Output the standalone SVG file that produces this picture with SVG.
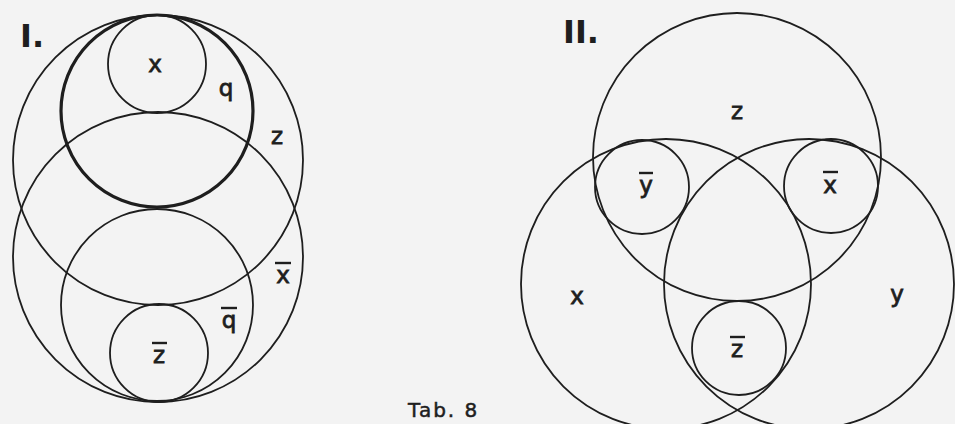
<svg xmlns="http://www.w3.org/2000/svg" width="955" height="424" viewBox="0 0 955 424">
  <style>
    .c { fill: none; stroke: #1e1e1e; stroke-width: 1.8; }
    .thick { stroke-width: 3.2; }
    .lbl { font-family: "DejaVu Sans", "Liberation Sans", sans-serif; font-size: 23px; fill: #1e1e1e; stroke: #1e1e1e; stroke-width: 0.8; text-anchor: middle; }
    .num { font-family: "DejaVu Sans", "Liberation Sans", sans-serif; font-size: 32px; font-weight: bold; fill: #1e1e1e; }
    .cap { font-family: "DejaVu Sans", "Liberation Sans", sans-serif; font-size: 20px; fill: #1e1e1e; stroke: #1e1e1e; stroke-width: 0.5; letter-spacing: 2px; }
    .bar { stroke: #1e1e1e; stroke-width: 2.4; }
  </style>
  <rect width="955" height="424" fill="#f3f3f3"/>

  <g id="figure-I">
    <text class="num" x="20" y="47">I.</text>
    <g id="I-z"><circle class="c" cx="158" cy="160" r="145"/><text class="lbl" x="277" y="144">z</text></g>
    <g id="I-xbar"><circle class="c" cx="158" cy="257" r="145"/><text class="lbl" x="283" y="283">x</text><line class="bar" x1="275" y1="263" x2="291" y2="263"/></g>
    <g id="I-q"><circle class="c thick" cx="157" cy="111" r="96"/><text class="lbl" x="226" y="96">q</text></g>
    <g id="I-qbar"><circle class="c" cx="157" cy="305" r="96"/><text class="lbl" x="229" y="328">q</text><line class="bar" x1="221" y1="308" x2="237" y2="308"/></g>
    <g id="I-x"><circle class="c" cx="157" cy="64" r="49"/><text class="lbl" x="155" y="72">x</text></g>
    <g id="I-zbar"><circle class="c" cx="159" cy="353" r="49"/><text class="lbl" x="159" y="363">z</text><line class="bar" x1="152" y1="343" x2="167" y2="343"/></g>
  </g>

  <g id="figure-II">
    <text class="num" x="563" y="43">II.</text>
    <g id="II-z"><circle class="c" cx="737" cy="157" r="144"/><text class="lbl" x="737" y="119">z</text></g>
    <g id="II-x"><circle class="c" cx="666" cy="284" r="145"/><text class="lbl" x="577" y="304">x</text></g>
    <g id="II-y"><circle class="c" cx="809" cy="284" r="145"/><text class="lbl" x="897" y="302">y</text></g>
    <g id="II-ybar"><circle class="c" cx="642" cy="187" r="47"/><text class="lbl" x="646" y="193">y</text><line class="bar" x1="639" y1="173" x2="653" y2="173"/></g>
    <g id="II-xbar"><circle class="c" cx="831" cy="186" r="47"/><text class="lbl" x="830" y="193">x</text><line class="bar" x1="823" y1="172" x2="838" y2="172"/></g>
    <g id="II-zbar"><circle class="c" cx="739" cy="348" r="47"/><text class="lbl" x="737" y="357">z</text><line class="bar" x1="730" y1="337" x2="745" y2="337"/></g>
  </g>

  <text class="cap" x="408" y="417">Tab. 8</text>
</svg>
